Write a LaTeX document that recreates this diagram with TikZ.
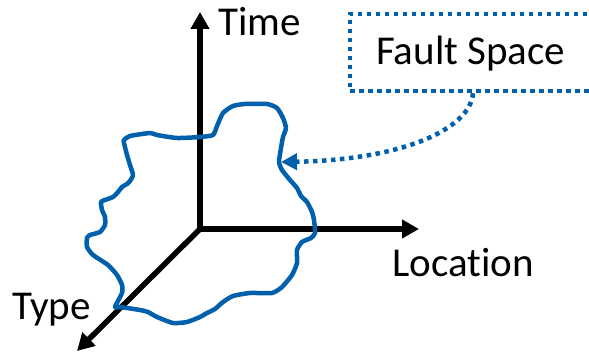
\documentclass[tikz,border=0pt]{standalone}
\usepackage{fontspec}
\setmainfont{Carlito}[Ligatures=NoCommon]
\usetikzlibrary{arrows.meta}
\definecolor{faultblue}{RGB}{0,96,172}
\tikzset{
  axis/.style={line width=5.5pt, -{Triangle[length=17pt,width=18pt]}},
  axislabel/.style={inner sep=0pt, font=\fontsize{41}{41}\selectfont, anchor=base west},
  blob/.style={draw=faultblue, line width=4.5pt, line join=round},
  dotline/.style={draw=faultblue, line width=4.5pt, dash pattern=on 4.5pt off 4.5pt},
  faultbox/.style={dotline, rectangle, minimum width=260pt, minimum height=77pt, inner sep=0pt}
}
\begin{document}
\begin{tikzpicture}[x=1pt, y=-1pt]
  \useasboundingbox (0,0) rectangle (589,352);
  \clip (0,0) rectangle (589,352);

  % axes
  \coordinate (O) at (200,229);
  \coordinate (timetip) at (200,12);
  \coordinate (loctip) at (419,229);
  \coordinate (typetip) at (77,351);
  \draw[axis] (O) -- (timetip);
  \draw[axis] (O) -- (loctip);
  \draw[axis] (O) -- (typetip);

  \node[axislabel] (time) at (218,36) {Time};
  \node[axislabel] (location) at (392,277) {Location};
  \node[axislabel] (type) at (12,320) {Type};

  % the fault space region
  \draw[blob] plot[smooth cycle, tension=0.35] coordinates {
    (124,140) (130,136) (150,133) (157,135) (177,138) (200,137) (213,135)
    (217,126) (223,113) (233,106) (245,104) (267,104) (277,108) (283,118)
    (286,128) (283,137) (281,148) (279,162) (282,170) (290,180) (297,188)
    (301,196) (307,202) (312,212) (314,220) (315,233) (311,238) (302,242)
    (297,250) (297,263) (292,275) (282,287) (272,293) (250,293) (233,296)
    (223,302) (215,309) (207,313) (200,317) (187,322) (173,323) (157,317)
    (148,312) (140,310) (120,307) (115,307) (122,293) (122,285) (117,275)
    (108,265) (93,255) (87,247) (87,238) (90,235) (100,232) (105,225)
    (105,217) (102,210) (101,202) (105,200) (113,197) (118,192) (122,187)
    (127,184) (130,181) (133,175) (130,165) (127,155) (124,143)};
  \coordinate (hit) at (281,162);

  % callout
  \node[faultbox] (fsbox) at (480,52.5) {};
  \node[axislabel] (fs) at (376,65) {Fault Space};
  \coordinate (start) at ([xshift=-7pt]fsbox.south);
  \draw[dotline, -{Triangle[length=16pt,width=16pt]}]
    (start) .. controls (470,130) and (400,160) .. (hit);
\end{tikzpicture}
\end{document}
